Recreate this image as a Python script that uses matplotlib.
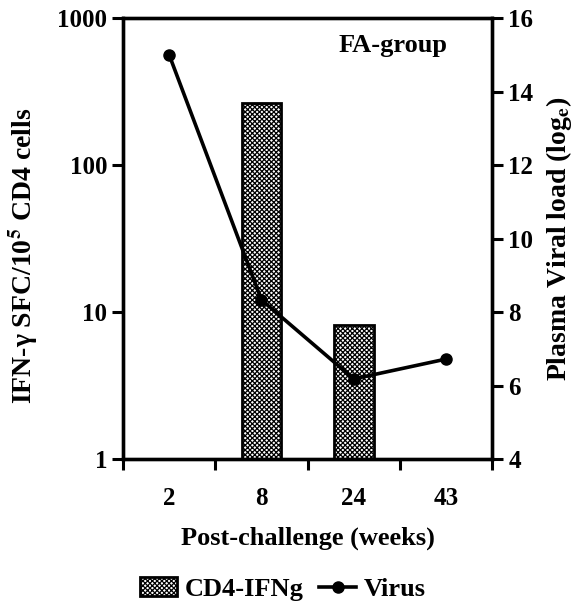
import numpy as np
import matplotlib.pyplot as plt
from matplotlib.ticker import FixedLocator, NullLocator

plt.rcParams["font.family"] = ["Liberation Serif", "DejaVu Serif"]
plt.rcParams["font.weight"] = "bold"
plt.rcParams["mathtext.fontset"] = "stix"
plt.rcParams["hatch.linewidth"] = 0.9

weeks = ["2", "8", "24", "43"]
cd4_ifng = [np.nan, 263, 8.2, np.nan]
cd4_err = [0, 3, 0, 0]
virus = [15.0, 8.33, 6.18, 6.72]

fig = plt.figure(figsize=(5.75, 6.06), dpi=100)
ax = fig.add_axes([0.214, 0.2426, 0.642, 0.7274])
ax2 = ax.twinx()

x = np.arange(len(weeks))
heights = np.nan_to_num(cd4_ifng, nan=0)
bars = ax.bar(x, heights, width=0.43, bottom=0, color="white", edgecolor="black",
              hatch="xxxxxxx", linewidth=2, label="CD4-IFNg", zorder=2)
ax.errorbar(x[1], cd4_ifng[1], yerr=cd4_err[1], fmt="none", ecolor="black",
            capsize=6, elinewidth=1, capthick=1, zorder=3)

ax.set_yscale("log")
ax.set_ylim(1, 1000)
ax.set_xlim(-0.5, len(weeks) - 0.5)
ax.yaxis.set_major_locator(FixedLocator([1, 10, 100, 1000]))
ax.yaxis.set_minor_locator(NullLocator())
ax.set_yticklabels(["1", "10", "100", "1000"])

# category labels centred, ticks on the boundaries
ax.set_xticks(np.arange(-0.5, len(weeks)), minor=False)
ax.set_xticklabels([])
ax.set_xticks(x, minor=True)
ax.set_xticklabels(weeks, minor=True)
ax.tick_params(axis="x", which="minor", length=0, pad=20, labelsize=18)
ax.tick_params(axis="x", which="major", direction="out", length=8, width=2.2)
ax.tick_params(axis="y", direction="out", length=8, width=2.2, labelsize=18)

line, = ax2.plot(x, virus, color="black", linewidth=2.6, marker="o",
                 markersize=8, label="Virus")
ax2.set_ylim(4, 16)
ax2.set_yticks([4, 6, 8, 10, 12, 14, 16])
ax2.tick_params(axis="y", direction="out", length=8, width=2.2, labelsize=18)

for a in (ax, ax2):
    for s in a.spines.values():
        s.set_linewidth(2.4)

ax.set_xlabel("Post-challenge (weeks)", fontsize=19, fontweight="bold", labelpad=12)
ax.set_ylabel("IFN-γ SFC/10$^{\\mathbf{5}}$ CD4 cells", fontsize=20, fontweight="bold")
ax.yaxis.set_label_coords(-0.225, 0.46)
ax2.set_ylabel("Plasma Viral load (log$_{\\mathbf{e}}$)", fontsize=20, fontweight="bold", labelpad=8)

ax.text(0.88, 0.965, "FA-group", transform=ax.transAxes, ha="right", va="top",
        fontsize=19, fontweight="bold")

fig.legend([bars, line], ["CD4-IFNg", "Virus"], loc="center", bbox_to_anchor=(0.492, 0.028),
           ncol=2, frameon=False, handlelength=1.4, handletextpad=0.3,
           columnspacing=0.6, prop={"weight": "bold", "size": 19})

fig.savefig("out.png", dpi=100)
